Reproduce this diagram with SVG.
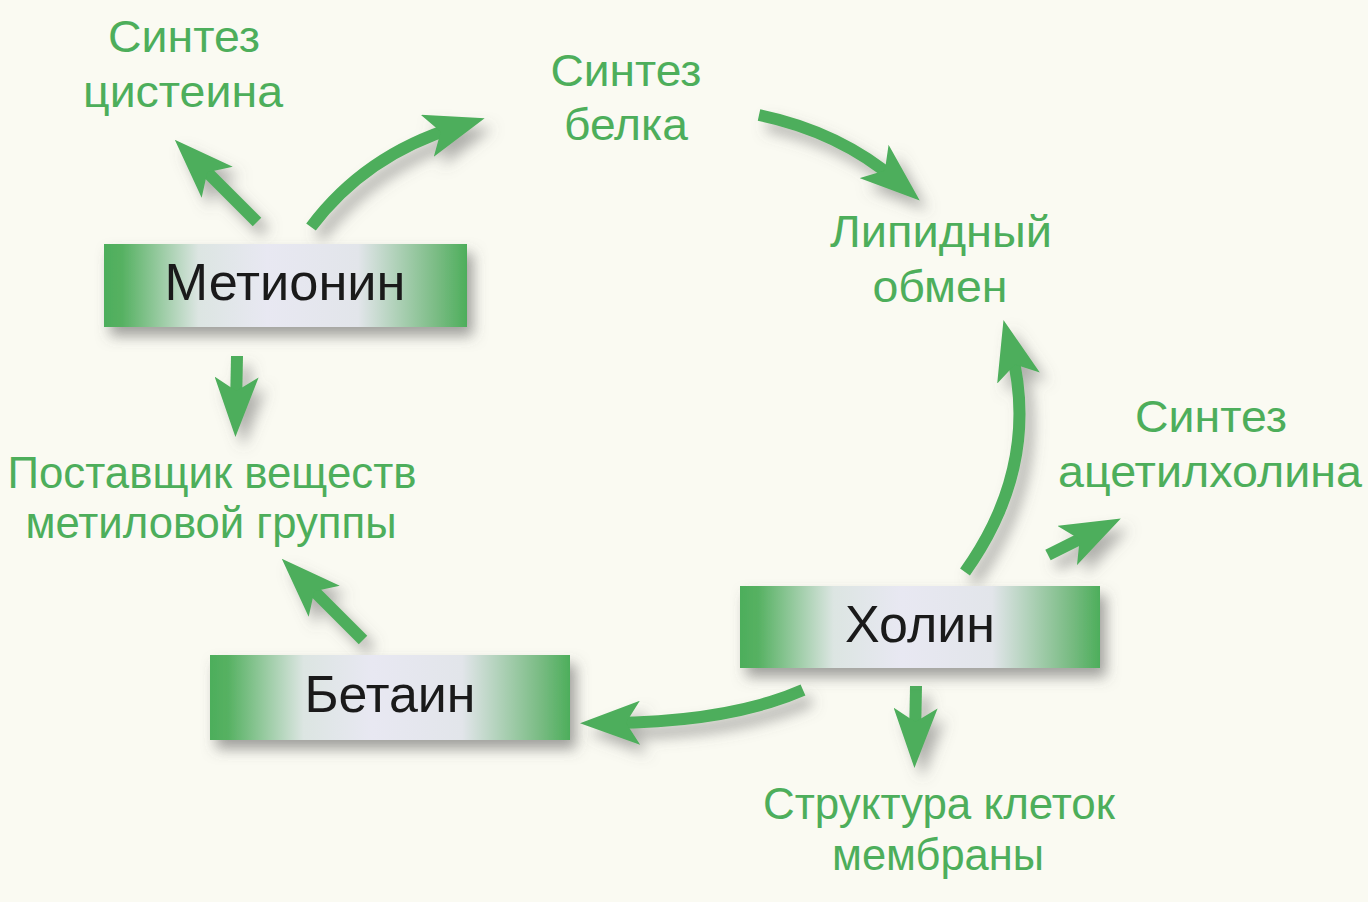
<svg xmlns="http://www.w3.org/2000/svg" width="1368" height="902" viewBox="0 0 1368 902">
<defs>
<style>
.lbl{font-family:"Liberation Sans",Arial,sans-serif;font-size:44px;fill:#4DAE5B;text-anchor:middle}
.nt{font-family:"Liberation Sans",Arial,sans-serif;font-size:52px;fill:#1a1a1a;text-anchor:middle}
.box{fill:url(#boxg)}
.con{fill:none;stroke:#4DAE5B;stroke-width:12;marker-end:url(#ah)}
</style>
<linearGradient id="boxg" x1="0" y1="0" x2="1" y2="0">
<stop offset="0" stop-color="#4DAE5B"/>
<stop offset="0.05" stop-color="#56b162"/>
<stop offset="0.26" stop-color="#dce5e2"/>
<stop offset="0.45" stop-color="#e8e8f2"/>
<stop offset="0.7" stop-color="#e2e5ea"/>
<stop offset="0.92" stop-color="#78bb82"/>
<stop offset="1" stop-color="#4DAE5B"/>
</linearGradient>
<filter id="sh" x="-20%" y="-30%" width="140%" height="170%">
<feDropShadow dx="6" dy="9" stdDeviation="7" flood-color="#555" flood-opacity="0.55"/>
</filter>
<filter id="ash" x="-30%" y="-30%" width="160%" height="160%">
<feDropShadow dx="8" dy="10" stdDeviation="7" flood-color="#666" flood-opacity="0.5"/>
</filter>
<marker id="ah" markerUnits="userSpaceOnUse" viewBox="0 0 60 44" markerWidth="60" markerHeight="44" refX="30" refY="22" orient="auto">
<path d="M0,0 L60,22 L0,44 L14,22 z" fill="#4DAE5B"/>
</marker>
</defs>
<rect width="1368" height="902" fill="#FAFAF2"/>

<g id="connectors" filter="url(#ash)">
<path class="con" d="M257,222 L196,161"/>
<path class="con" d="M311,227 Q365,155 456,127"/>
<path class="con" d="M759,115 Q840,132 897,181"/>
<path class="con" d="M965,572 Q1041,465 1011,349"/>
<path class="con" d="M1048,555 L1094,532"/>
<path class="con" d="M916,686 L915,738"/>
<path class="con" d="M803,690 Q730,722 610,723"/>
<path class="con" d="M363,640 L303,580"/>
<path class="con" d="M237,356 L236,407"/>
</g>

<g id="methionine">
<rect class="box" x="104" y="244" width="363" height="83" filter="url(#sh)"/>
<text class="nt" x="285" y="300" textLength="241" lengthAdjust="spacingAndGlyphs">Метионин</text>
</g>
<g id="betaine">
<rect class="box" x="210" y="655" width="360" height="85" filter="url(#sh)"/>
<text class="nt" x="390" y="712" textLength="171" lengthAdjust="spacingAndGlyphs">Бетаин</text>
</g>
<g id="choline">
<rect class="box" x="740" y="586" width="360" height="82" filter="url(#sh)"/>
<text class="nt" x="920" y="642" textLength="150" lengthAdjust="spacingAndGlyphs">Холин</text>
</g>

<g id="cysteine">
<text class="lbl" x="184" y="52" textLength="152" lengthAdjust="spacingAndGlyphs">Синтез</text>
<text class="lbl" x="183" y="107" textLength="200" lengthAdjust="spacingAndGlyphs">цистеина</text>
</g>
<g id="protein">
<text class="lbl" x="626" y="86" textLength="151" lengthAdjust="spacingAndGlyphs">Синтез</text>
<text class="lbl" x="626" y="140" textLength="124" lengthAdjust="spacingAndGlyphs">белка</text>
</g>
<g id="lipid">
<text class="lbl" x="941" y="247" textLength="222" lengthAdjust="spacingAndGlyphs">Липидный</text>
<text class="lbl" x="940" y="302" textLength="135" lengthAdjust="spacingAndGlyphs">обмен</text>
</g>
<g id="acetylcholine">
<text class="lbl" x="1211" y="432" textLength="152" lengthAdjust="spacingAndGlyphs">Синтез</text>
<text class="lbl" x="1210" y="487" textLength="304" lengthAdjust="spacingAndGlyphs">ацетилхолина</text>
</g>
<g id="methyl">
<text class="lbl" x="212" y="488" textLength="409" lengthAdjust="spacingAndGlyphs">Поставщик веществ</text>
<text class="lbl" x="211" y="538" textLength="371" lengthAdjust="spacingAndGlyphs">метиловой группы</text>
</g>
<g id="membrane">
<text class="lbl" x="939" y="819" textLength="352" lengthAdjust="spacingAndGlyphs">Структура клеток</text>
<text class="lbl" x="938" y="870" textLength="212" lengthAdjust="spacingAndGlyphs">мембраны</text>
</g>
</svg>
